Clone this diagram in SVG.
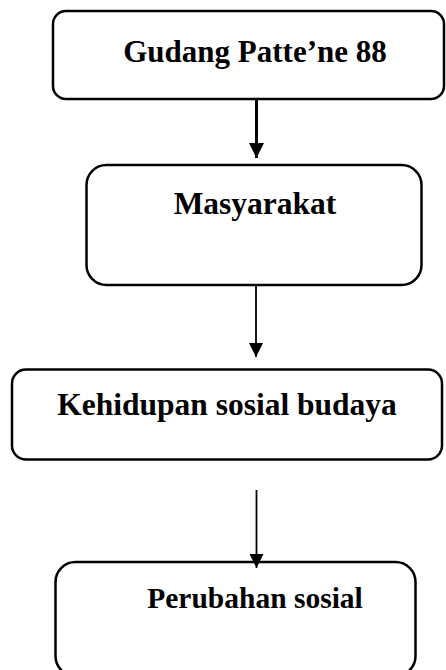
<svg xmlns="http://www.w3.org/2000/svg" width="446" height="670" viewBox="0 0 446 670">
<style>
.box{fill:#fff;stroke:#000;stroke-width:2.5}
.lbl{font-family:"Liberation Serif","Times New Roman",serif;font-weight:bold;fill:#000;text-anchor:middle}
.conn{stroke:#000;fill:none}
</style>
<defs>
<marker id="ah" viewBox="0 0 10 10" refX="10" refY="5" markerWidth="5" markerHeight="5" markerUnits="strokeWidth" orient="auto">
<path d="M0,0 L10,5 L0,10 z" fill="#000"/>
</marker>
<marker id="ah2" viewBox="0 0 10 10" refX="10" refY="5" markerWidth="8" markerHeight="8" markerUnits="strokeWidth" orient="auto">
<path d="M0,0 L10,5 L0,10 z" fill="#000"/>
</marker>
</defs>
<rect width="446" height="670" fill="#fff"/>
<g id="n1">
<rect class="box" x="53" y="11" width="391" height="88" rx="13"/>
<text class="lbl" x="255" y="62" font-size="31">Gudang Patte’ne 88</text>
</g>
<g id="n2">
<rect class="box" x="86.5" y="165" width="335" height="120" rx="20"/>
<text class="lbl" x="255" y="214" font-size="31.5">Masyarakat</text>
</g>
<g id="n3">
<rect class="box" x="12" y="369.5" width="430" height="90" rx="14"/>
<text class="lbl" x="227" y="415" font-size="31.5">Kehidupan sosial budaya</text>
</g>
<g id="n4">
<rect class="box" x="55.5" y="562" width="360" height="114" rx="20"/>
<text class="lbl" x="255" y="608" font-size="29.5">Perubahan sosial</text>
</g>
<g id="connectors">
<line class="conn" x1="256.5" y1="99" x2="256.5" y2="158" stroke-width="3" marker-end="url(#ah)"/>
<line class="conn" x1="256" y1="285" x2="256" y2="357" stroke-width="1.8" marker-end="url(#ah2)"/>
<line class="conn" x1="256.5" y1="490" x2="256.5" y2="568" stroke-width="1.8" marker-end="url(#ah2)"/>
</g>
</svg>
